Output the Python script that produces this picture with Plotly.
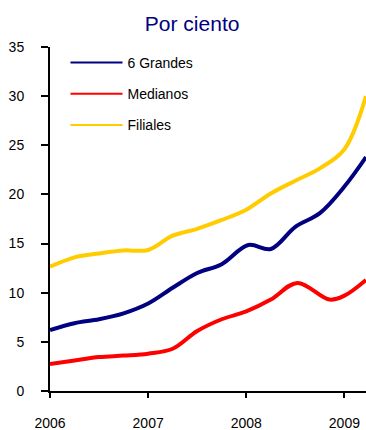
import plotly.graph_objects as go

# ---- data ----
x_grandes = [2006.0, 2006.25, 2006.5, 2006.75, 2007.0, 2007.25, 2007.5, 2007.75, 2008.02, 2008.25, 2008.5, 2008.75, 2009.0, 2009.22]
grandes   = [6.2, 6.9, 7.3, 7.9, 8.9, 10.5, 12.0, 12.9, 14.85, 14.45, 16.7, 18.1, 20.8, 23.8]

x_medianos = [2006.0, 2006.25, 2006.5, 2006.75, 2007.0, 2007.25, 2007.5, 2007.75, 2008.0, 2008.25, 2008.52, 2008.85, 2009.0, 2009.22]
medianos   = [2.75, 3.1, 3.45, 3.6, 3.8, 4.3, 6.1, 7.3, 8.1, 9.3, 11.0, 9.3, 9.7, 11.3]

x_filiales = [2006.0, 2006.25, 2006.5, 2006.75, 2007.0, 2007.25, 2007.5, 2007.75, 2008.0, 2008.25, 2008.5, 2008.75, 2009.0, 2009.22]
filiales   = [12.65, 13.6, 14.0, 14.3, 14.35, 15.8, 16.5, 17.4, 18.45, 20.1, 21.4, 22.65, 24.6, 30.0]

series_names = ["6 Grandes", "Medianos", "Filiales"]
series_colors = ["#000080", "#FF0000", "#FFCC00"]
year_ticks = [2006, 2007, 2008, 2009]
year_labels = ["2006", "2007", "2008", "2009"]
y_ticks = [0, 5, 10, 15, 20, 25, 30, 35]

FONT = "Arial, Liberation Sans, sans-serif"

fig = go.Figure()
xs = [x_grandes, x_medianos, x_filiales]
ys = [grandes, medianos, filiales]
for name, color, xv, yv in zip(series_names, series_colors, xs, ys):
    fig.add_trace(go.Scatter(
        x=xv, y=yv, mode="lines", name=name, legendgroup=name, showlegend=False,
        line=dict(color=color, width=4, shape="spline", smoothing=1.0),
        hoverinfo="skip"))
# legend entries (thinner sample lines, as in the reference)
for name, color in zip(series_names, series_colors):
    fig.add_trace(go.Scatter(
        x=[None], y=[None], mode="lines", name=name, legendgroup=name, showlegend=True,
        line=dict(color=color, width=2)))

fig.update_layout(
    width=366, height=430,
    margin=dict(l=50, r=0, t=47, b=39),
    paper_bgcolor="white", plot_bgcolor="white",
    font=dict(family=FONT, size=14, color="black"),
    title=dict(text="Por ciento", x=0.525, xanchor="center", y=0.962, yanchor="top",
               font=dict(family=FONT, size=21, color="#000080")),
    showlegend=True,
    legend=dict(x=0.049, y=1.0, xanchor="left", yanchor="top",
                bgcolor="rgba(0,0,0,0)", itemwidth=52, tracegroupgap=10,
                font=dict(family=FONT, size=14, color="black")),
    xaxis=dict(range=[2006, 2009.22], tickmode="array", tickvals=year_ticks, ticktext=year_labels,
               showgrid=False, zeroline=False, showline=True, linecolor="black", linewidth=2,
               ticks="outside", ticklen=5, tickwidth=2, tickcolor="black", automargin=False,
               ticklabelstandoff=13, tickfont=dict(size=14)),
    yaxis=dict(range=[0, 35], tickmode="array", tickvals=y_ticks,
               showgrid=False, zeroline=False, showline=True, linecolor="black", linewidth=2,
               ticks="outside", ticklen=7, tickwidth=2, tickcolor="black", automargin=False,
               ticklabelstandoff=14, tickfont=dict(size=14)),
)

fig.write_html("out.html", config={"displayModeBar": False},
               post_script="document.body.style.margin='0';document.body.style.overflow='hidden';")
